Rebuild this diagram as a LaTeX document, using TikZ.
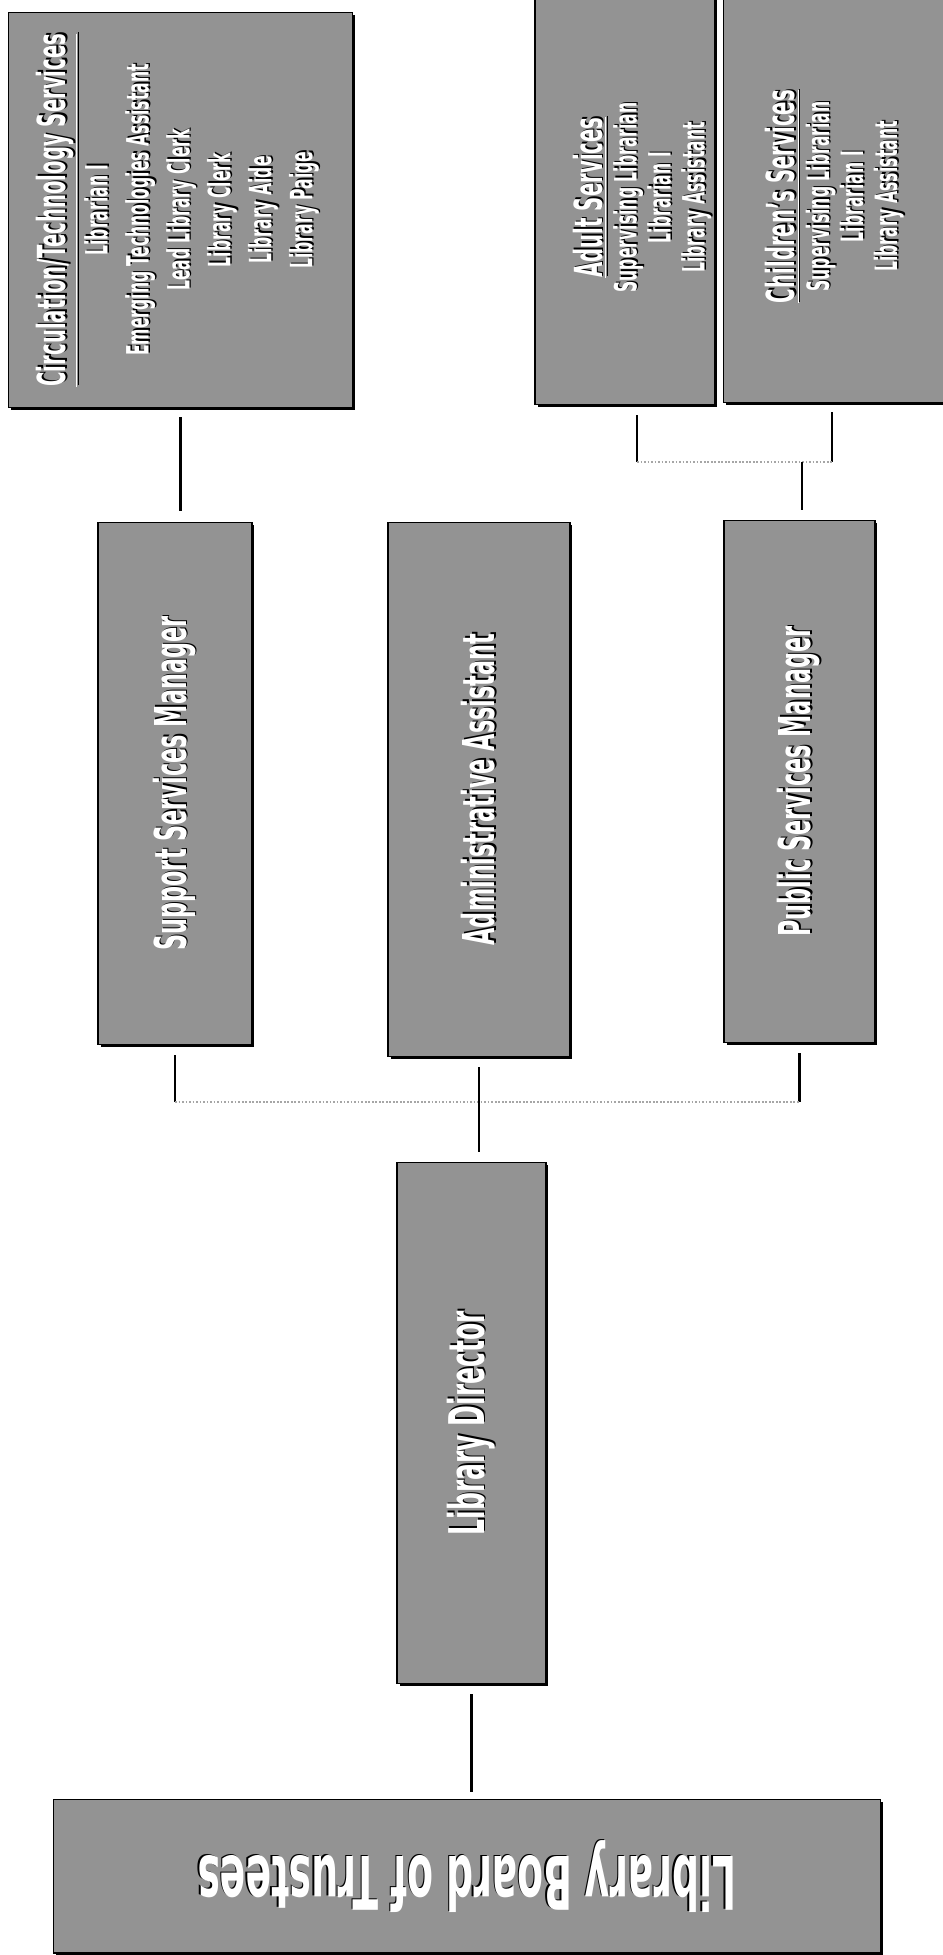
\documentclass[tikz,border=0pt]{standalone}
\usepackage{fontspec}
\usepackage{graphicx}
\usetikzlibrary{shadows}

\newfontfamily\orgbold{DejaVu Sans}[FakeStretch=0.51, UprightFont=* Bold]
\definecolor{boxgrey}{HTML}{939393}

% white text with a dark drop shadow
\newcommand\shd[1]{\leavevmode\rlap{\kern0.8pt\raisebox{-0.8pt}{\color{black}#1}}{\color{white}#1}}
\newcommand\head[1]{\shd{\orgbold\fontsize{22pt}{23pt}\selectfont\underline{#1}}}
\newcommand\post[1]{\shd{\orgbold\fontsize{17.5pt}{19pt}\selectfont #1}}
\newcommand\onerole[2]{\rotatebox{90}{\shd{\orgbold\fontsize{#1}{#1}\selectfont #2}}}
\newcommand\rolelist[2]{\rotatebox{90}{\fontsize{16pt}{#1}\selectfont\begin{tabular}{@{}c@{}}#2\end{tabular}}}

\tikzset{
  orgbox/.style={draw=black, line width=0.6pt, fill=boxgrey, inner sep=0pt,
    drop shadow={shadow xshift=0.05cm, shadow yshift=-0.05cm, fill=black, opacity=1}},
  vline/.style={line width=1.4pt, black},
  hline/.style={line width=1pt, gray!70, densely dotted}
}

\begin{document}
\begin{tikzpicture}[x=0.02cm, y=-0.02cm]
\useasboundingbox (0,0) rectangle (943,1955);

% second level units
\node[orgbox, minimum width=6.9cm, minimum height=7.92cm] (circ) at (180.5,210)
  {\rolelist{23.3pt}{\head{Circulation/Technology Services}\\ \post{Librarian I}\\
   \post{Emerging Technologies Assistant}\\ \post{Lead Library Clerk}\\
   \post{Library Clerk}\\ \post{Library Aide}\\ \post{Library Paige}}};
\node[orgbox, minimum width=3.6cm, minimum height=8.3cm] (adult) at (625,197.5)
  {\hspace*{0.76cm}\rolelist{19.4pt}{\head{Adult Services}\\ \post{Supervising Librarian}\\
   \post{Librarian I}\\ \post{Library Assistant}}};
\node[orgbox, minimum width=4.54cm, minimum height=8.26cm] (children) at (836.5,196.5)
  {\rolelist{19.4pt}{\head{Children’s Services}\\ \post{Supervising Librarian}\\
   \post{Librarian I}\\ \post{Library Assistant}}};

% managers
\node[orgbox, minimum width=3.08cm, minimum height=10.46cm] (support) at (175,783.5)
  {\onerole{25pt}{Support Services Manager}};
\node[orgbox, minimum width=3.64cm, minimum height=10.7cm] (admin) at (479,789.5)
  {\onerole{25pt}{Administrative Assistant}};
\node[orgbox, minimum width=3.02cm, minimum height=10.46cm] (public) at (799.5,781.5)
  {\onerole{25pt}{Public Services Manager}};

% director and board
\node[orgbox, minimum width=2.98cm, minimum height=10.44cm] (director) at (471.5,1423)
  {\onerole{28pt}{Library Director}};
\node[orgbox, minimum width=16.56cm, minimum height=3.08cm] (board) at (467,1876)
  {\rotatebox{180}{\shd{\orgbold\fontsize{42pt}{42pt}\selectfont Library Board of Trustees}}};

% connectors
\coordinate (youthbus) at (802,462);
\coordinate (staffbus) at (475,1102);
\draw[vline] ([yshift=-0.18cm]circ.south) -- ([yshift=0.22cm]circ.south |- support.north);
\draw[vline] ([xshift=0.24cm, yshift=-0.2cm]adult.south) -- ([xshift=0.24cm]adult.south |- youthbus) coordinate (adultbus);
\draw[vline] ([xshift=-0.09cm, yshift=-0.18cm]children.south) -- ([xshift=-0.09cm]children.south |- youthbus) coordinate (childbus);
\draw[hline] (adultbus) -- (childbus);
\draw[vline] (youthbus) -- ([yshift=0.2cm]youthbus |- public.north);
\draw[vline] ([yshift=-0.2cm]support.south) -- (support.south |- staffbus) coordinate (supportbus);
\draw[vline] ([yshift=-0.2cm]public.south) -- (public.south |- staffbus) coordinate (publicbus);
\draw[hline] (supportbus) -- (publicbus);
\draw[vline] ([yshift=-0.2cm]admin.south) -- ([yshift=0.2cm]admin.south |- director.north);
\draw[vline] ([yshift=-0.2cm]director.south) -- ([yshift=0.14cm]director.south |- board.north);
\end{tikzpicture}
\end{document}
